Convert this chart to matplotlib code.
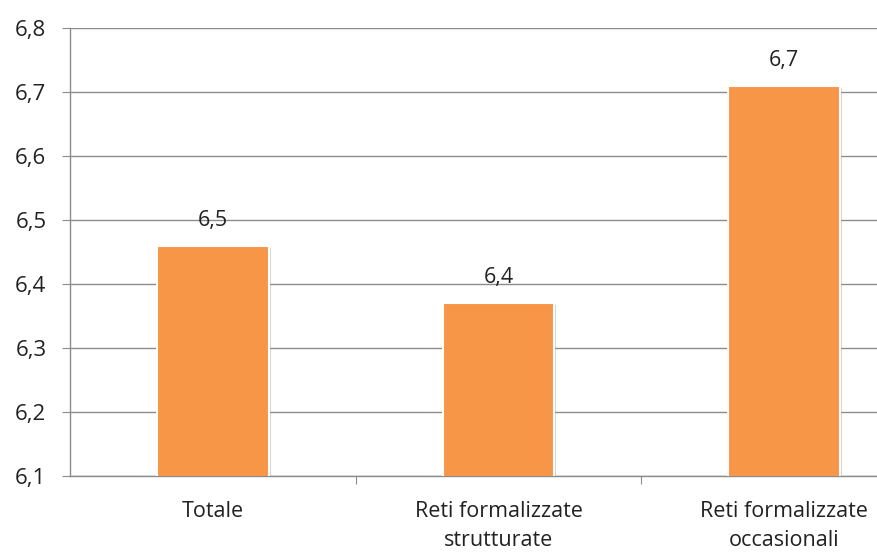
import matplotlib.pyplot as plt
import matplotlib.patheffects as pe
import numpy as np

categories = ['Totale', 'Reti formalizzate\nstrutturate', 'Reti formalizzate\noccasionali']
values = [6.46, 6.37, 6.71]
yticks = [6.1, 6.2, 6.3, 6.4, 6.5, 6.6, 6.7, 6.8]

plt.rcParams['font.family'] = ['Open Sans', 'DejaVu Sans']

fig = plt.figure(figsize=(8.77, 5.54), dpi=100)
# axes runs off the right edge, like the original export
ax = fig.add_axes([70 / 877, 1 - 476 / 554, 857 / 877, 448 / 554])

x = np.arange(len(categories))
bars = ax.bar(x, values, width=0.39, bottom=0, color='#F79646',
              edgecolor='white', linewidth=1.5, zorder=3)
for b in bars:
    b.set_path_effects([pe.SimplePatchShadow(offset=(1.5, -1.5), shadow_rgbFace='#999999', alpha=0.4),
                        pe.Normal()])

for xi, v in zip(x, values):
    ax.text(xi, v + 0.04, f'{v:.1f}'.replace('.', ','), ha='center', va='center',
            fontsize=15.5, color='#222222', zorder=4)

ax.set_xlim(-0.5, 2.5)
ax.set_ylim(6.1, 6.8)
ax.set_yticks(yticks)
ax.set_yticklabels([f'{t:.1f}'.replace('.', ',') for t in yticks], fontsize=16, color='#222222')
ax.yaxis.grid(True, color='#8c8c8c', linewidth=1, zorder=0)
ax.set_axisbelow(True)

ax.set_xticks([0.5, 1.5], minor=False)
ax.set_xticklabels([])
ax.set_xticks(x, minor=True)
ax.set_xticklabels(categories, minor=True, fontsize=15.5, color='#222222', linespacing=1.5)
ax.tick_params(axis='x', which='minor', length=0, pad=18)
ax.tick_params(axis='x', which='major', length=6, color='#8c8c8c', direction='out')
ax.tick_params(axis='y', length=6, color='#8c8c8c', pad=11)

for s in ['top', 'right']:
    ax.spines[s].set_visible(False)
for s in ['left', 'bottom']:
    ax.spines[s].set_color('#8c8c8c')
    ax.spines[s].set_linewidth(1)

fig.savefig('out.png', dpi=100)
